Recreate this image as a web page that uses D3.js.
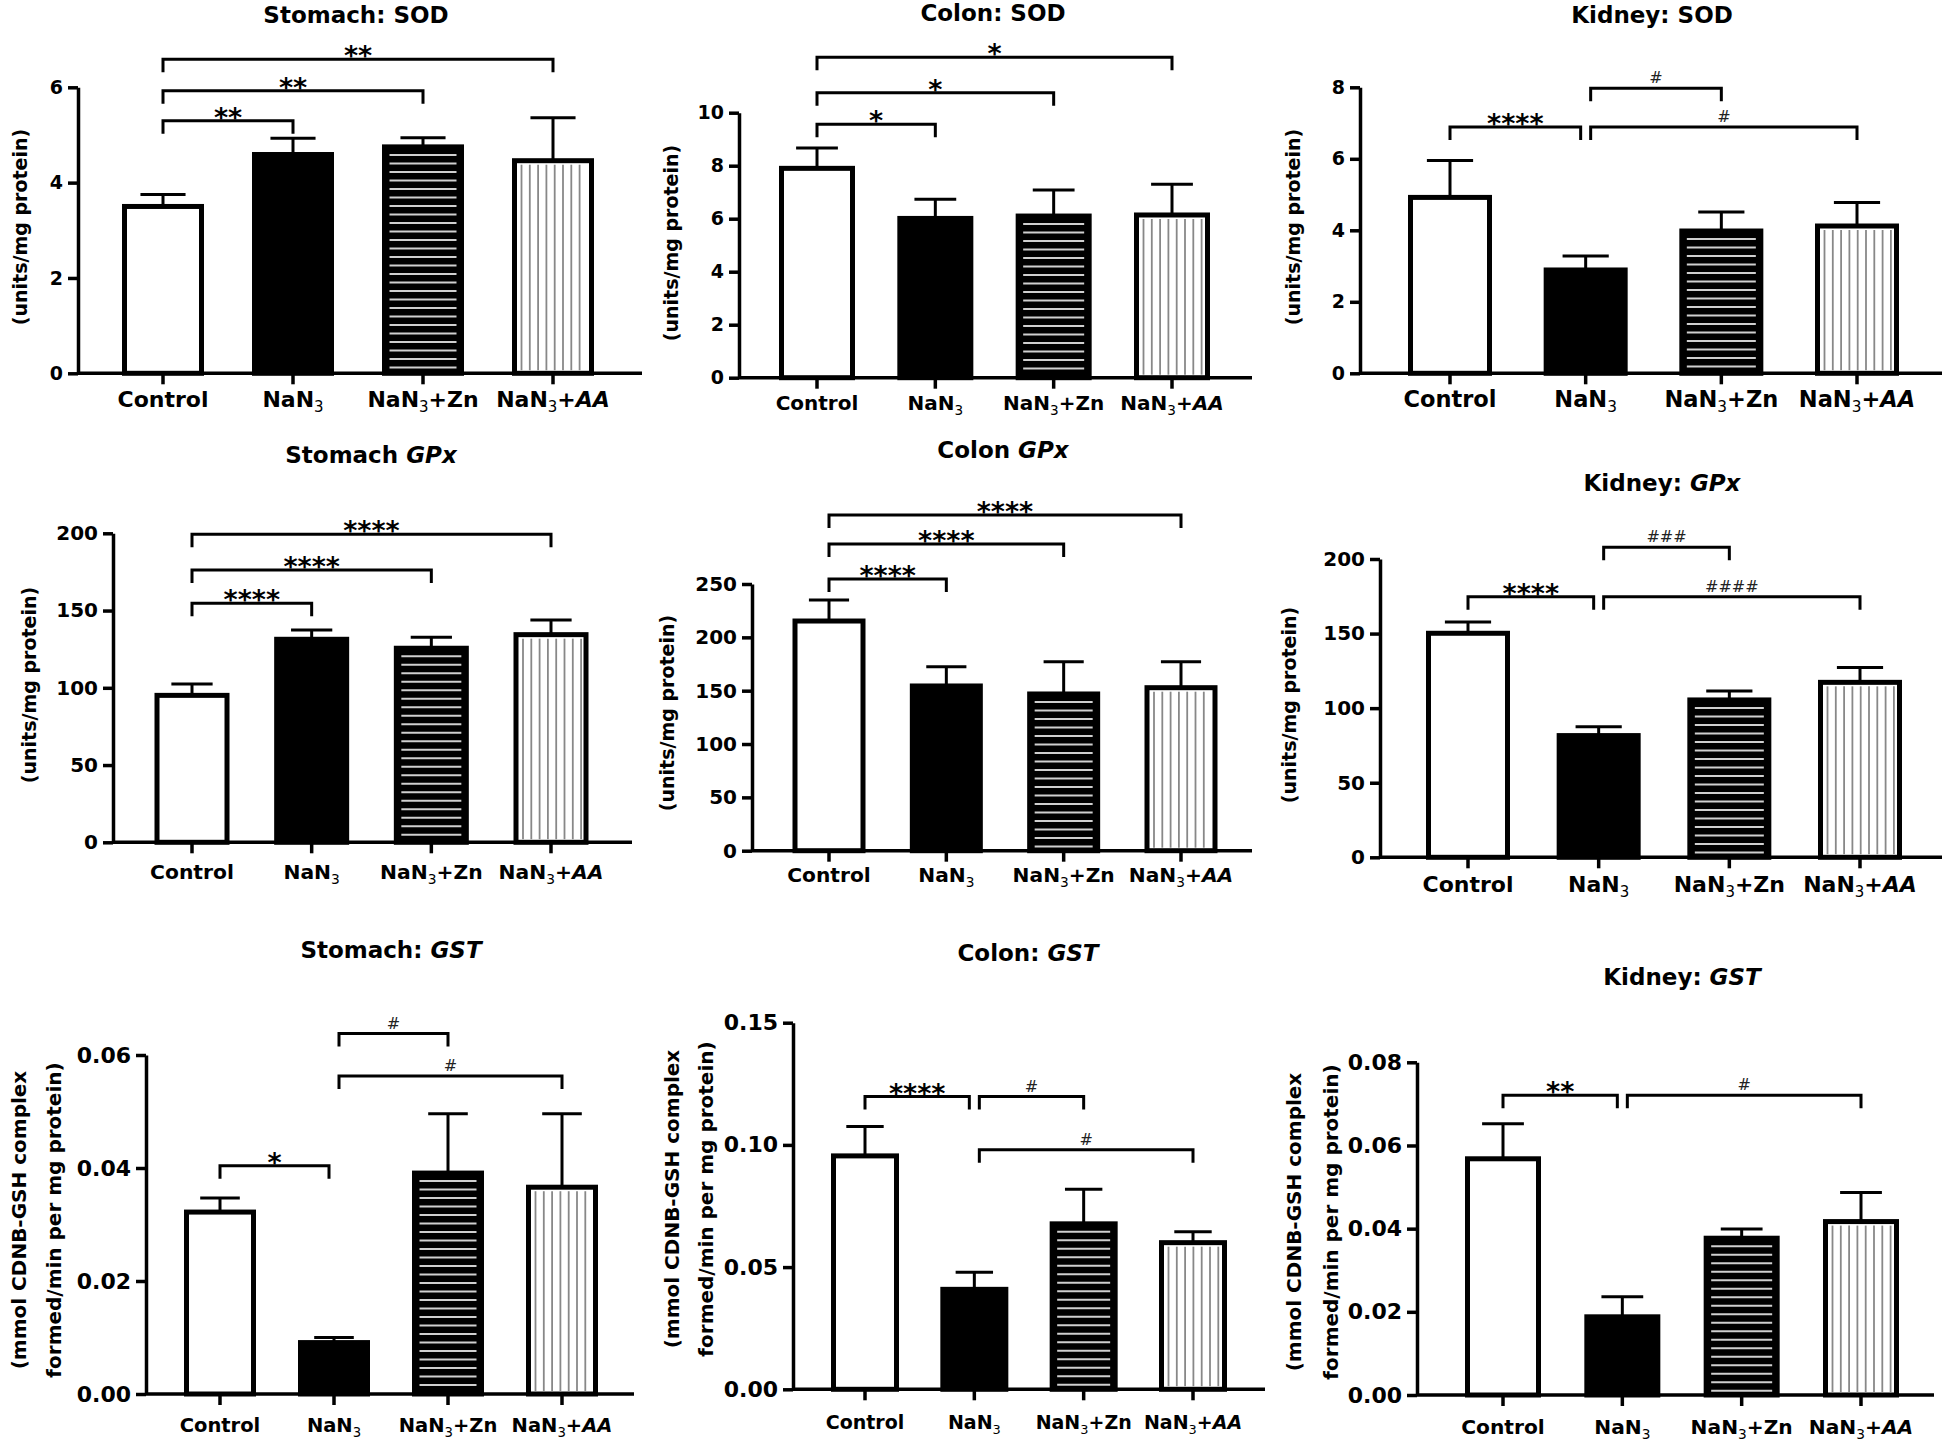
<!DOCTYPE html>
<html><head><meta charset="utf-8">
<script src="https://cdn.jsdelivr.net/npm/d3@7"></script>
<style>
body{margin:0;background:#fff}
svg{display:block}
text{font-family:"DejaVu Sans",sans-serif}
</style>
</head><body>
<svg id="c" width="1946" height="1448"></svg>
<script>
// ---------- DATA ----------
const groups = ["Control", "NaN3", "NaN3+Zn", "NaN3+AA"];

const titles = ["Stomach: SOD", "Colon: SOD", "Kidney: SOD",
                "Stomach GPx", "Colon GPx", "Kidney: GPx",
                "Stomach: GST", "Colon: GST", "Kidney: GST"];

// means
const stomachSOD = [3.50, 4.59, 4.75, 4.46];
const colonSOD   = [7.90, 6.01, 6.10, 6.14];
const kidneySOD  = [4.92, 2.89, 3.98, 4.12];
const stomachGPx = [95.1, 131.4, 125.6, 134.4];
const colonGPx   = [215.3, 154.4, 146.9, 152.8];
const kidneyGPx  = [150.2, 81.6, 105.5, 117.3];
const stomachGST = [0.0322, 0.0091, 0.0391, 0.0366];
const colonGST   = [0.0955, 0.0409, 0.0677, 0.0600];
const kidneyGST  = [0.0568, 0.0188, 0.0377, 0.0417];

// SEM (upper error)
const stomachSODErr = [0.25, 0.34, 0.19, 0.90];
const colonSODErr   = [0.77, 0.72, 0.98, 1.16];
const kidneySODErr  = [1.03, 0.39, 0.53, 0.66];
const stomachGPxErr = [7.4, 6.0, 7.1, 9.5];
const colonGPxErr   = [19.7, 18.1, 30.3, 24.4];
const kidneyGPxErr  = [7.6, 6.0, 6.0, 9.9];
const stomachGSTErr = [0.0025, 0.0009, 0.0105, 0.0130];
const colonGSTErr   = [0.0120, 0.0070, 0.0142, 0.0045];
const kidneyGSTErr  = [0.0084, 0.0048, 0.0022, 0.0070];

// y tick values
const ticksStomachSOD = [0, 2, 4, 6];
const ticksColonSOD   = [0, 2, 4, 6, 8, 10];
const ticksKidneySOD  = [0, 2, 4, 6, 8];
const ticksStomachGPx = [0, 50, 100, 150, 200];
const ticksColonGPx   = [0, 50, 100, 150, 200, 250];
const ticksKidneyGPx  = [0, 50, 100, 150, 200];
const ticksStomachGST = [0, 0.02, 0.04, 0.06];
const ticksColonGST   = [0, 0.05, 0.10, 0.15];
const ticksKidneyGST  = [0, 0.02, 0.04, 0.06, 0.08];

// significance brackets: [fromGroup, toGroup, level (data units), label]
const sigStomachSOD = [[0,1,5.30,"**"],[0,2,5.93,"**"],[0,3,6.59,"**"]];
const sigColonSOD   = [[0,1,9.56,"*"],[0,2,10.75,"*"],[0,3,12.09,"*"]];
const sigKidneySOD  = [[0,1,6.89,"****"],[1,2,7.97,"#"],[1,3,6.89,"#"]];
const sigStomachGPx = [[0,1,154.7,"****"],[0,2,176.3,"****"],[0,3,199.4,"****"]];
const sigColonGPx   = [[0,1,254.7,"****"],[0,2,287.5,"****"],[0,3,314.7,"****"]];
const sigKidneyGPx  = [[0,1,174.7,"****"],[1,2,207.8,"###"],[1,3,174.7,"####"]];
const sigStomachGST = [[0,1,0.0404,"*"],[1,2,0.0638,"#"],[1,3,0.0563,"#"]];
const sigColonGST   = [[0,1,0.1198,"****"],[1,2,0.1198,"#"],[1,3,0.0980,"#"]];
const sigKidneyGST  = [[0,1,0.0721,"**"],[1,3,0.0721,"#"]];

const yLabelSingle = ["(units/mg protein)"];
const yLabelGST = ["(mmol CDNB-GSH complex", "formed/min per mg protein)"];

// ---------- PANELS (data references) ----------
const panels = [
  {mean: stomachSOD, err: stomachSODErr, ticks: ticksStomachSOD, sig: sigStomachSOD, fmt: d3.format("d"), ylab: yLabelSingle},
  {mean: colonSOD,   err: colonSODErr,   ticks: ticksColonSOD,   sig: sigColonSOD,   fmt: d3.format("d"), ylab: yLabelSingle},
  {mean: kidneySOD,  err: kidneySODErr,  ticks: ticksKidneySOD,  sig: sigKidneySOD,  fmt: d3.format("d"), ylab: yLabelSingle},
  {mean: stomachGPx, err: stomachGPxErr, ticks: ticksStomachGPx, sig: sigStomachGPx, fmt: d3.format("d"), ylab: yLabelSingle},
  {mean: colonGPx,   err: colonGPxErr,   ticks: ticksColonGPx,   sig: sigColonGPx,   fmt: d3.format("d"), ylab: yLabelSingle},
  {mean: kidneyGPx,  err: kidneyGPxErr,  ticks: ticksKidneyGPx,  sig: sigKidneyGPx,  fmt: d3.format("d"), ylab: yLabelSingle},
  {mean: stomachGST, err: stomachGSTErr, ticks: ticksStomachGST, sig: sigStomachGST, fmt: d3.format(".2f"), ylab: yLabelGST},
  {mean: colonGST,   err: colonGSTErr,   ticks: ticksColonGST,   sig: sigColonGST,   fmt: d3.format(".2f"), ylab: yLabelGST},
  {mean: kidneyGST,  err: kidneyGSTErr,  ticks: ticksKidneyGST,  sig: sigKidneyGST,  fmt: d3.format(".2f"), ylab: yLabelGST}
];

// ---------- LAYOUT (pixel frames) ----------
const layout = [
  {ax:78,   y0:373.3,  yTop:87.3,   c0:163,  c3:553,  bw:82, xEnd:642,  tx:356,  ty:15,  ly:400,  yl:[20],        ylY:227,  tf:19, lf:22},
  {ax:739,  y0:377.7,  yTop:112.7,  c0:817,  c3:1172, bw:76, xEnd:1252, tx:993,  ty:13,  ly:403,  yl:[671],       ylY:243,  tf:19, lf:20},
  {ax:1360, y0:373.3,  yTop:87.3,   c0:1450, c3:1857, bw:84, xEnd:1942, tx:1652, ty:15,  ly:400,  yl:[1293],      ylY:227,  tf:19, lf:22.5},
  {ax:113,  y0:842.3,  yTop:533.3,  c0:192,  c3:551,  bw:75, xEnd:632,  tx:371,  ty:455, ly:872,  yl:[29],        ylY:685,  tf:20, lf:20.3},
  {ax:752,  y0:850.7,  yTop:584,    c0:829,  c3:1181, bw:73, xEnd:1252, tx:1003, ty:450, ly:875,  yl:[667],       ylY:713,  tf:20, lf:20.2},
  {ax:1380, y0:857.3,  yTop:559,    c0:1468, c3:1860, bw:84, xEnd:1942, tx:1662, ty:483, ly:885,  yl:[1289],      ylY:705,  tf:20, lf:22},
  {ax:146,  y0:1394,   yTop:1055,   c0:220,  c3:562,  bw:72, xEnd:634,  tx:391,  ty:950, ly:1425, yl:[19,54],     ylY:1220, tf:22, lf:19.5},
  {ax:793,  y0:1389.3, yTop:1022.7, c0:865,  c3:1193, bw:68, xEnd:1265, tx:1028, ty:953, ly:1422, yl:[672,706],   ylY:1199, tf:22, lf:19},
  {ax:1417, y0:1395,   yTop:1062.3, c0:1503, c3:1861, bw:76, xEnd:1934, tx:1682, ty:977, ly:1427, yl:[1294,1331], ylY:1222, tf:22, lf:20.2}
];

const labelParts = {
  "Control": [["Control", ""]],
  "NaN3": [["NaN", ""], ["3", "sub"]],
  "NaN3+Zn": [["NaN", ""], ["3", "sub"], ["+Zn", "after"]],
  "NaN3+AA": [["NaN", ""], ["3", "sub"], ["+", "after"], ["AA", "it"]]
};
const fills = ["#fff", "#000", "#000", "#fff"];

const svg = d3.select("#c");
svg.append("rect").attr("width", 1946).attr("height", 1448).attr("fill", "#fff");

function titleParts(t) {
  const m = t.match(/^(.*?)(GPx|GST)$/);
  if (m) return [[m[1], false], [m[2], true]];
  return [[t, false]];
}

panels.forEach((p, k) => {
  const L = layout[k];
  const g = svg.append("g");
  const y = d3.scaleLinear().domain([0, p.ticks[p.ticks.length - 1]]).range([L.y0, L.yTop]);
  const x = d3.scalePoint().domain(groups).range([L.c0, L.c3]);
  const w = L.bw - 5;

  // title
  const tt = g.append("text").attr("x", L.tx).attr("y", L.ty + 8)
    .attr("text-anchor", "middle").attr("font-size", 23).attr("font-weight", "bold");
  titleParts(titles[k]).forEach(([s, it]) => {
    tt.append("tspan").text(s).attr("font-style", it ? "italic" : "normal");
  });

  // y axis
  const ya = d3.axisLeft(y).tickValues(p.ticks).tickSize(10).tickPadding(5)
    .tickSizeOuter(0).tickFormat(p.fmt);
  const yg = g.append("g").attr("transform", `translate(${L.ax},0)`).call(ya);
  yg.attr("font-family", null).attr("font-size", null);
  yg.select(".domain").attr("stroke-width", 3.5);
  yg.selectAll(".tick line").attr("stroke-width", 3.5);
  yg.selectAll(".tick text").attr("font-size", L.tf).attr("font-weight", "bold").attr("fill", "#000")
    .style("font-family", "DejaVu Sans, sans-serif");

  // y label
  const n = p.ylab.length;
  p.ylab.forEach((s, i) => {
    g.append("text")
      .attr("transform", `translate(${L.yl[i]},${L.ylY}) rotate(-90)`)
      .attr("text-anchor", "middle").attr("dominant-baseline", "central")
      .attr("font-size", n > 1 ? 20 : 19).attr("font-weight", "bold").text(s);
  });

  // bars
  groups.forEach((gr, i) => {
    const cx = x(gr);
    const top = y(p.mean[i]);
    const xl = cx - w / 2, xr = cx + w / 2;
    g.append("rect").attr("x", xl).attr("y", top).attr("width", w).attr("height", L.y0 - top)
      .attr("fill", fills[i]).attr("stroke", "#000").attr("stroke-width", 5);
    if (i === 2) {
      for (let yy = top + 8; yy < L.y0 - 4; yy += 8.5) {
        g.append("line").attr("x1", xl + 5).attr("x2", xr - 5).attr("y1", yy).attr("y2", yy)
          .attr("stroke", "#cfcfcf").attr("stroke-width", 2);
      }
    }
    if (i === 3) {
      for (let xx = xl + 7; xx < xr - 4; xx += 8.3) {
        g.append("line").attr("x1", xx).attr("x2", xx).attr("y1", top + 4).attr("y2", L.y0 - 3)
          .attr("stroke", "#888").attr("stroke-width", 1.8);
      }
    }
    // error bar
    const ye = y(p.mean[i] + p.err[i]);
    const cw = L.bw * 0.55;
    g.append("line").attr("x1", cx).attr("x2", cx).attr("y1", top).attr("y2", ye)
      .attr("stroke", "#000").attr("stroke-width", 3);
    g.append("line").attr("x1", cx - cw / 2).attr("x2", cx + cw / 2).attr("y1", ye).attr("y2", ye)
      .attr("stroke", "#000").attr("stroke-width", 3);
  });

  // x axis
  g.append("line").attr("x1", L.ax).attr("x2", L.xEnd).attr("y1", L.y0).attr("y2", L.y0)
    .attr("stroke", "#000").attr("stroke-width", 3.5);
  groups.forEach(gr => {
    g.append("line").attr("x1", x(gr)).attr("x2", x(gr)).attr("y1", L.y0).attr("y2", L.y0 + 11)
      .attr("stroke", "#000").attr("stroke-width", 3.5);
    const t = g.append("text").attr("x", x(gr)).attr("y", L.ly + 7).attr("text-anchor", "middle")
      .attr("font-size", L.lf).attr("font-weight", "bold");
    labelParts[gr].forEach(([s, kind]) => {
      const ts = t.append("tspan").text(s);
      if (kind === "sub") ts.attr("font-size", L.lf * 0.68).attr("font-weight", "normal").attr("dy", 5);
      if (kind === "after") ts.attr("dy", -5);
      if (kind === "it") ts.attr("font-style", "italic");
    });
  });

  // significance brackets
  p.sig.forEach(([a, b, lev, lab]) => {
    const offA = p.sig.some(s => s[1] === a) ? 5 : 0;
    const offB = p.sig.some(s => s[0] === b) ? -5 : 0;
    const xa = x(groups[a]) + offA, xb = x(groups[b]) + offB;
    const yl = y(lev);
    g.append("path").attr("d", `M${xa},${yl + 13}V${yl}H${xb}V${yl + 13}`)
      .attr("fill", "none").attr("stroke", "#000").attr("stroke-width", 3);
    const isStar = lab[0] === "*";
    g.append("text").attr("x", (xa + xb) / 2).attr("y", isStar ? yl + 6 : yl - 5)
      .attr("text-anchor", "middle")
      .attr("font-size", isStar ? 27 : 16).attr("font-weight", isStar ? "bold" : "normal")
      .attr("fill", isStar ? "#000" : "#222").text(lab);
  });
});
</script>
</body></html>
